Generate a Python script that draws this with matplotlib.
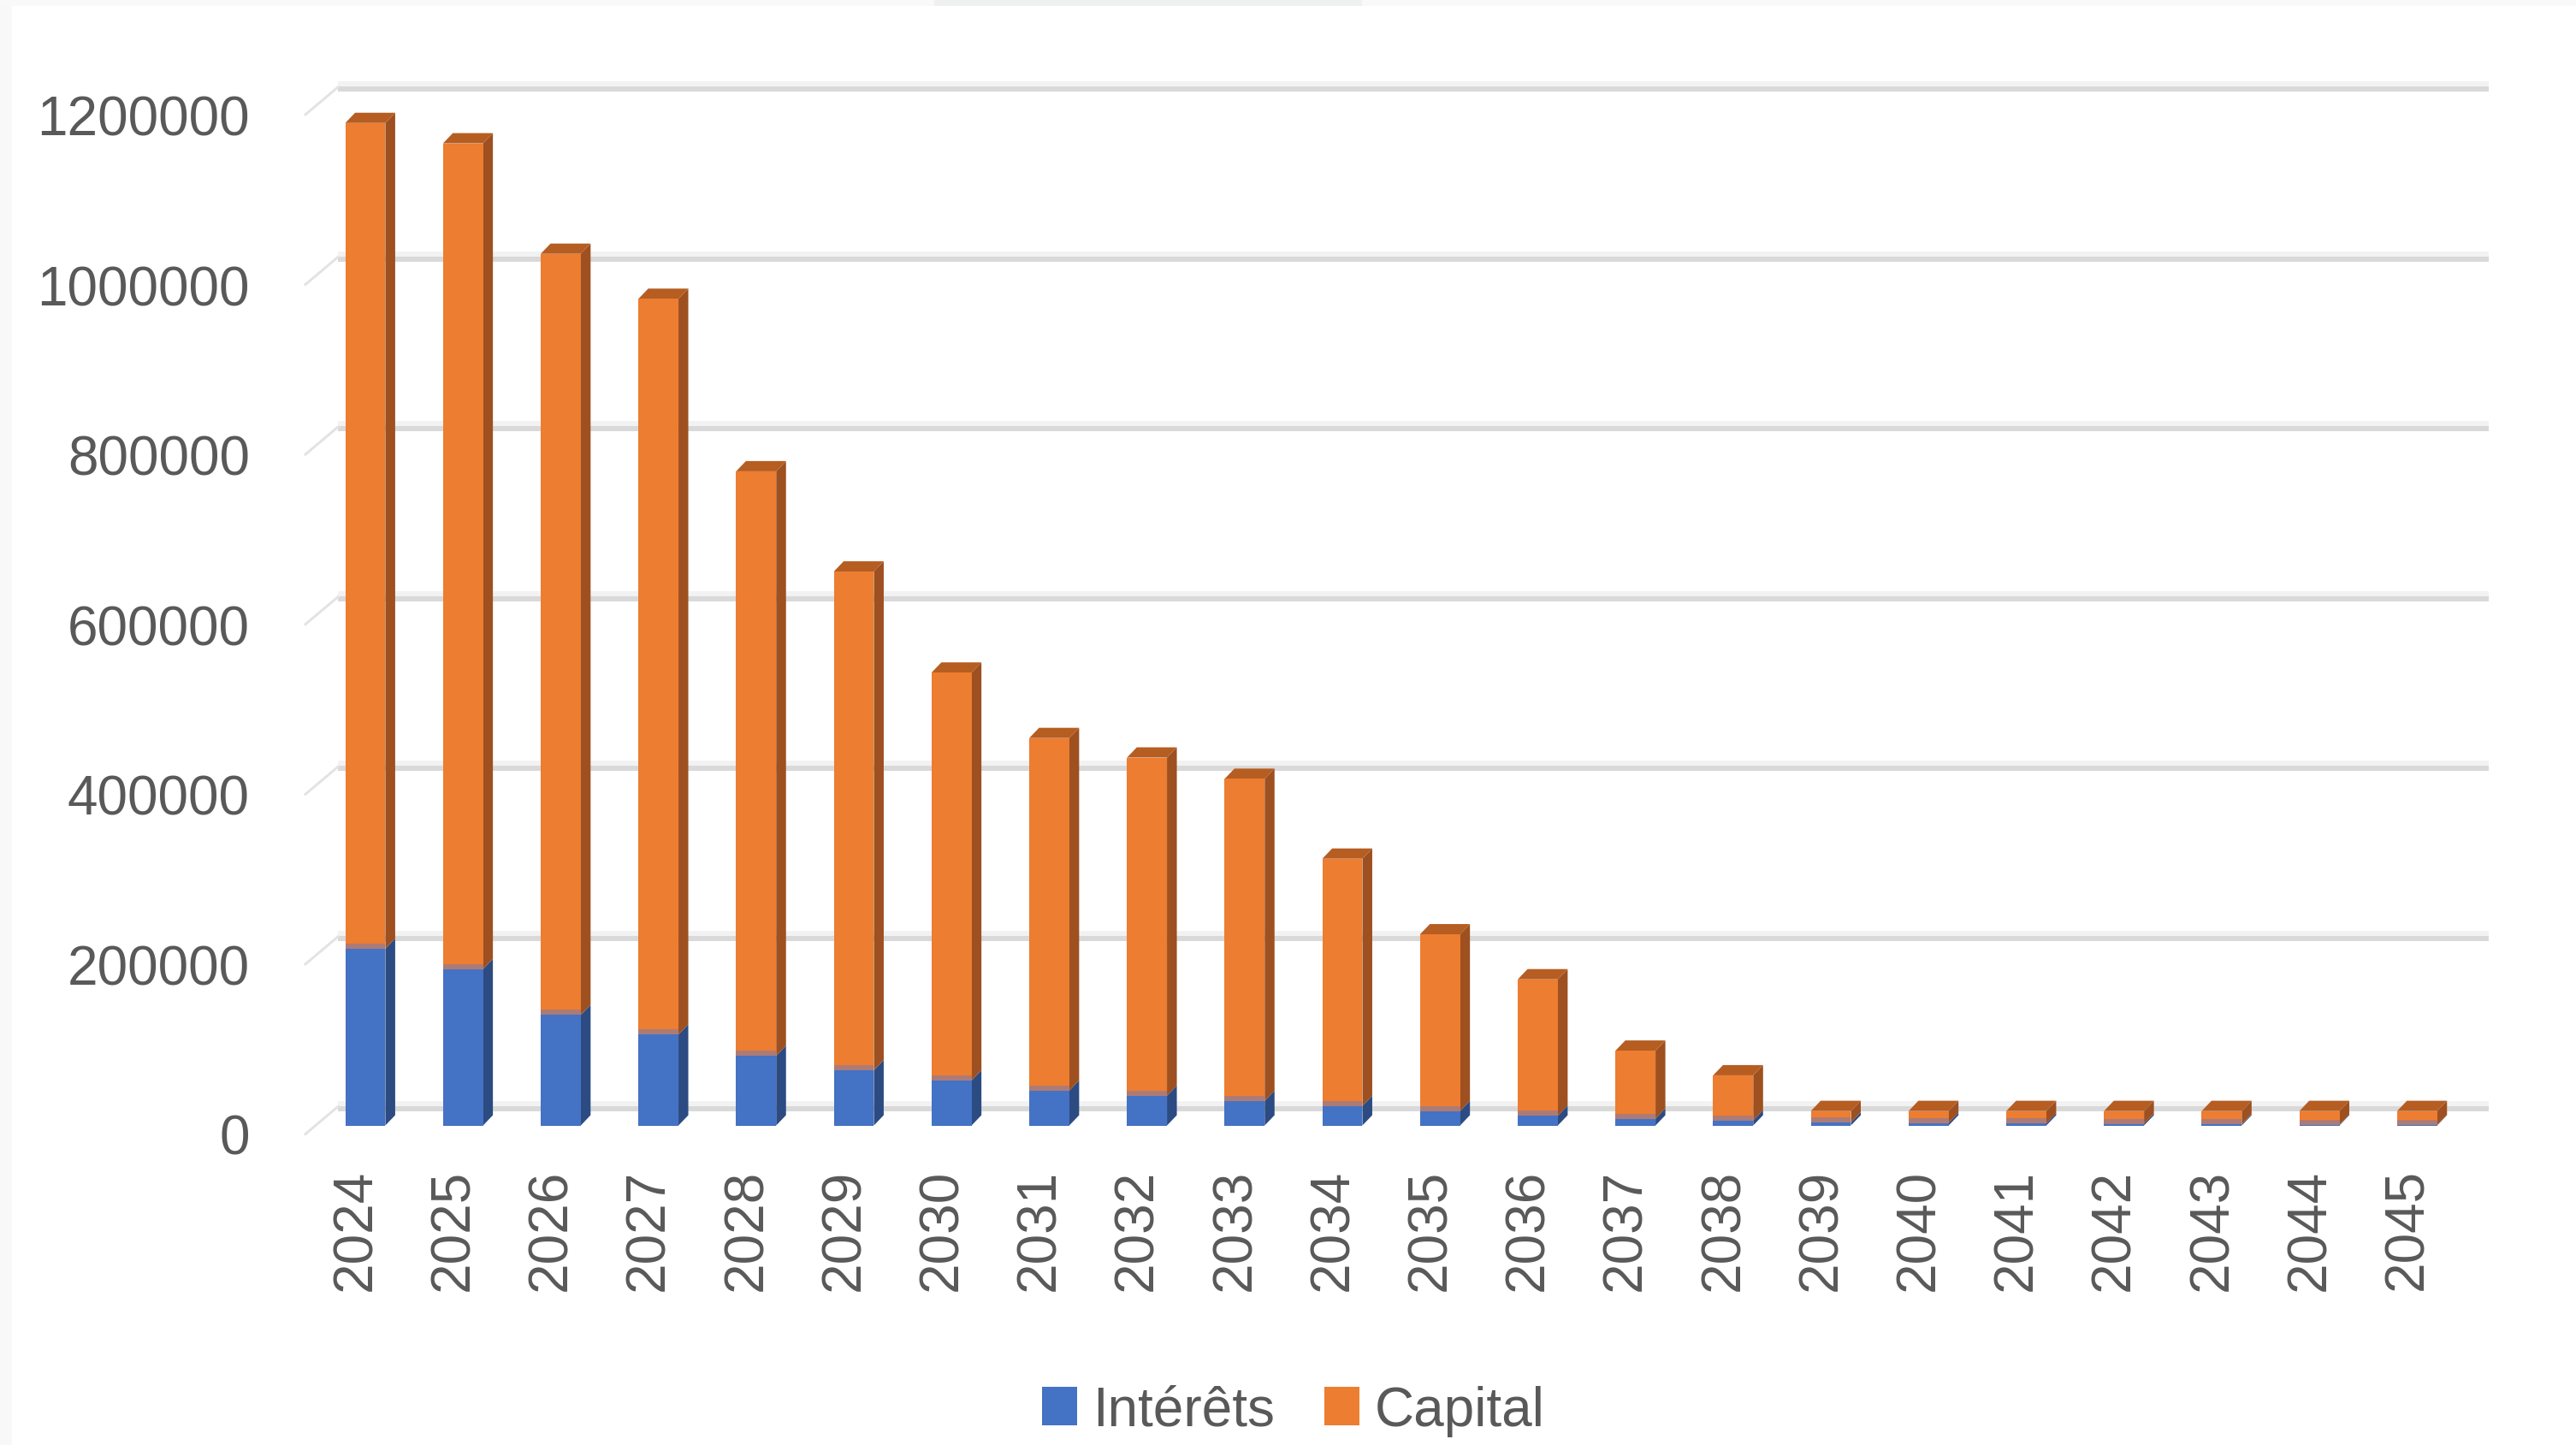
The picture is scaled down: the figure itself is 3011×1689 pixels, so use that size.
import matplotlib
matplotlib.use("Agg")
import matplotlib.pyplot as plt
import matplotlib.transforms as mtransforms
from matplotlib.patches import Polygon, Rectangle, Patch
import numpy as np

# ---------------- data ----------------
years = ["2024", "2025", "2026", "2027", "2028", "2029", "2030", "2031", "2032", "2033", "2034",
         "2035", "2036", "2037", "2038", "2039", "2040", "2041", "2042", "2043", "2044", "2045"]
interets = [208000, 184000, 130000, 107000, 82000, 65000, 53000, 41000, 35000, 29000, 23000,
            17000, 11500, 8000, 6000, 3500, 3000, 2500, 2000, 1500, 1000, 500]
capital = [972000, 972000, 896000, 866000, 688000, 587000, 480000, 415000, 398000, 379000, 291000,
           208000, 160500, 80000, 53000, 13500, 14000, 14500, 15000, 15500, 16000, 16500]
series_names = ["Intérêts", "Capital"]
yticks = [0, 200000, 400000, 600000, 800000, 1000000, 1200000]

# ---------------- style ----------------
W, H, DPI = 3011, 1690, 100
BLUE, BLUE_SIDE = "#4472C4", "#2C4B82"
ORANGE, ORANGE_SIDE, ORANGE_TOP = "#ED7D31", "#9E5020", "#B65D22"
TXT = "#595959"
FS = 46
plt.rcParams["font.family"] = ["Liberation Sans", "DejaVu Sans"]

fig = plt.figure(figsize=(W / DPI, H / DPI), dpi=DPI)
fig.patch.set_facecolor("white")
# light frame of the screenshot
fig.patches.append(Rectangle((0, 0), 14 / W, 1, transform=fig.transFigure,
                             facecolor="#F8F8F8", edgecolor="none", zorder=0))
fig.patches.append(Rectangle((0, 1 - 8 / H), 1, 8 / H, transform=fig.transFigure,
                             facecolor="#F9F9F9", edgecolor="none", zorder=0))
fig.patches.append(Rectangle((1092 / W, 1 - 8 / H), 500 / W, 8 / H, transform=fig.transFigure,
                             facecolor="#EFF1F0", edgecolor="none", zorder=0))

zero_px = 1316.5
top_px = zero_px - 6 * 198.6
ax = fig.add_axes([357 / W, (H - zero_px) / H, 2514 / W, (zero_px - top_px) / H])
ax.set_facecolor("none")
ax.set_xlim(-0.613, 21.40)
ax.set_ylim(0, 1200000)
for s in ax.spines.values():
    s.set_visible(False)

x = np.arange(len(years))
bw = 0.41

# ---- back wall gridlines ----
blend = mtransforms.blended_transform_factory(ax.transAxes, ax.transData)
off_dark = mtransforms.ScaledTranslation(38 / DPI, 20 / DPI, fig.dpi_scale_trans)
off_light = mtransforms.ScaledTranslation(38 / DPI, 26 / DPI, fig.dpi_scale_trans)
for v in yticks:
    ax.plot([0, 1], [v, v], transform=blend + off_light, color="#F2F2F2", lw=6 * 0.72,
            clip_on=False, zorder=0.4, solid_capstyle="butt")
    ax.plot([0, 1], [v, v], transform=blend + off_dark, color="#D9D9D9", lw=6 * 0.72,
            clip_on=False, zorder=0.5, solid_capstyle="butt")

fig.canvas.draw()
ident = mtransforms.IdentityTransform()
# left wall diagonals
for v in yticks:
    px, py = ax.transData.transform((ax.get_xlim()[0], v))
    ax.add_artist(plt.Line2D([px, px + 38], [py - 10, py + 22], transform=ident,
                             color="#E3E3E3", lw=3 * 0.72, clip_on=False, zorder=0.5))

# ---- bars (front faces) ----
ax.bar(x, interets, width=bw, color=BLUE, zorder=3, label=series_names[0])
ax.bar(x, capital, width=bw, bottom=interets, color=ORANGE, zorder=3, label=series_names[1])

# ---- 3D depth faces ----
dx, dy = 11.5, 12
for i in range(len(years)):
    i0, i1 = 0, interets[i]
    t1 = interets[i] + capital[i]
    xl, _ = ax.transData.transform((x[i] - bw / 2, 0))
    xr, y0 = ax.transData.transform((x[i] + bw / 2, 0))
    _, yi = ax.transData.transform((x[i], i1))
    _, yt = ax.transData.transform((x[i], t1))
    # blue side
    ax.add_artist(Polygon([(xr, y0), (xr + dx, y0 + dy), (xr + dx, yi + dy), (xr, yi)],
                          closed=True, transform=ident, facecolor=BLUE_SIDE, edgecolor="none",
                          zorder=2.9, clip_on=False))
    # orange side
    ax.add_artist(Polygon([(xr, yi), (xr + dx, yi + dy), (xr + dx, yt + dy), (xr, yt)],
                          closed=True, transform=ident, facecolor=ORANGE_SIDE, edgecolor="none",
                          zorder=2.9, clip_on=False))
    # orange top
    ax.add_artist(Polygon([(xl, yt), (xl + dx, yt + dy), (xr + dx, yt + dy), (xr, yt)],
                          closed=True, transform=ident, facecolor=ORANGE_TOP, edgecolor="none",
                          zorder=2.9, clip_on=False))
    # seam between the two stacked parts
    seam_h = min(6, yt - yi)
    ax.add_artist(Rectangle((xl, yi), xr - xl, seam_h, transform=ident,
                            facecolor="#AD7B76", edgecolor="none", zorder=3.1, clip_on=False))

# ---- ticks ----
ax.set_yticks(yticks)
ax.set_yticklabels([str(v) for v in yticks], fontsize=FS, color=TXT)
ax.set_xticks(x)
ax.set_xticklabels(years, fontsize=FS, color=TXT, rotation=90)
ax.tick_params(axis="both", length=0)
ax.tick_params(axis="y", pad=46.8)
ax.tick_params(axis="x", pad=36)
ydown = mtransforms.ScaledTranslation(0, -10 / DPI, fig.dpi_scale_trans)
for lab in ax.get_yticklabels():
    lab.set_transform(lab.get_transform() + ydown)
xleft = mtransforms.ScaledTranslation(-11 / DPI, 0, fig.dpi_scale_trans)
for lab in ax.get_xticklabels():
    lab.set_transform(lab.get_transform() + xleft)

# ---- legend ----
handles = [Patch(facecolor=BLUE, edgecolor="none"), Patch(facecolor=ORANGE, edgecolor="none")]
leg = fig.legend(handles, series_names, loc="center", bbox_to_anchor=(1512 / W, (H - 1650) / H),
                 ncol=2, frameon=False, fontsize=FS, handlelength=0.64, handleheight=0.69,
                 handletextpad=0.28, columnspacing=0.92, borderaxespad=0, borderpad=0)
for t in leg.get_texts():
    t.set_color(TXT)

fig.savefig("out.png", dpi=DPI, facecolor=fig.get_facecolor())
